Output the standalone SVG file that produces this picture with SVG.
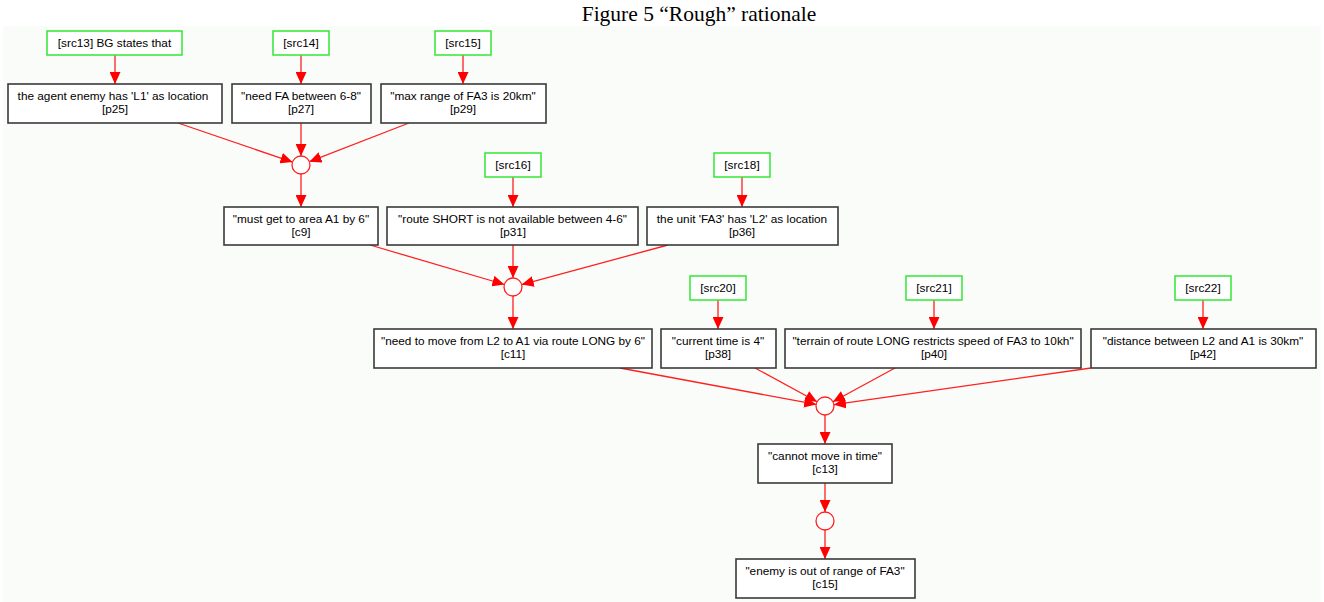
<svg xmlns="http://www.w3.org/2000/svg" width="1324" height="602" viewBox="0 0 1324 602">
<style>
.t{font-family:"Liberation Serif",serif;font-size:21.5px;fill:#000}
.src rect{fill:#fff;stroke:#33e633;stroke-width:1.5}
.nd rect{fill:#fff;stroke:#3a3a3a;stroke-width:1.6}
text.l{font-family:"Liberation Sans",Arial,sans-serif;font-size:11.8px;fill:#000;text-anchor:middle}
.j circle{fill:#fff;stroke:#ff2020;stroke-width:1.3}
#edges line{stroke:#ff2020;stroke-width:1.3;marker-end:url(#ah)}
</style>
<defs>
<marker id="ah" markerUnits="userSpaceOnUse" markerWidth="12" markerHeight="11" refX="12" refY="5.5" orient="auto">
<path d="M0,0 L12,5.5 L0,11 z" fill="#ff0000"/>
</marker>
</defs>
<rect x="0" y="0" width="1324" height="602" fill="#ffffff"/>
<rect x="3" y="26" width="1318" height="576" fill="#fafcfa"/>
<text class="t" x="699" y="21" text-anchor="middle">Figure 5 “Rough” rationale</text>

<g id="edges">
<line x1="115" y1="55" x2="115" y2="84"/>
<line x1="301" y1="55" x2="301" y2="84"/>
<line x1="463" y1="55" x2="463" y2="84"/>
<line x1="178" y1="123" x2="292.5" y2="162.1"/>
<line x1="301" y1="123" x2="301" y2="156"/>
<line x1="409" y1="123" x2="309.4" y2="161.7"/>
<line x1="301" y1="174" x2="301" y2="207"/>
<line x1="513" y1="177" x2="513" y2="207"/>
<line x1="742" y1="177" x2="742" y2="207"/>
<line x1="370" y1="245" x2="504.4" y2="284.5"/>
<line x1="513" y1="245" x2="513" y2="278"/>
<line x1="668" y1="245" x2="521.7" y2="284.6"/>
<line x1="513" y1="296" x2="513" y2="329"/>
<line x1="718" y1="300" x2="718" y2="329"/>
<line x1="934" y1="300" x2="934" y2="329"/>
<line x1="1203" y1="300" x2="1203" y2="329"/>
<line x1="620" y1="368" x2="816.2" y2="404.4"/>
<line x1="755" y1="368" x2="817.1" y2="401.7"/>
<line x1="895" y1="368" x2="832.9" y2="401.7"/>
<line x1="1091" y1="368" x2="833.9" y2="404.7"/>
<line x1="825" y1="415" x2="825" y2="444"/>
<line x1="825" y1="483" x2="825" y2="512"/>
<line x1="825" y1="530" x2="825" y2="559"/>
</g>

<g id="src13" class="src"><rect x="47" y="31" width="135" height="24"/><text class="l" x="114.5" y="47">[src13] BG states that</text></g>
<g id="src14" class="src"><rect x="273" y="31" width="56" height="24"/><text class="l" x="301" y="47">[src14]</text></g>
<g id="src15" class="src"><rect x="435" y="31" width="56" height="24"/><text class="l" x="463" y="47">[src15]</text></g>
<g id="src16" class="src"><rect x="485" y="153" width="56" height="24"/><text class="l" x="513" y="169">[src16]</text></g>
<g id="src18" class="src"><rect x="714" y="153" width="56" height="24"/><text class="l" x="742" y="169">[src18]</text></g>
<g id="src20" class="src"><rect x="690" y="276" width="56" height="24"/><text class="l" x="718" y="292">[src20]</text></g>
<g id="src21" class="src"><rect x="906" y="276" width="56" height="24"/><text class="l" x="934" y="292">[src21]</text></g>
<g id="src22" class="src"><rect x="1175" y="276" width="56" height="24"/><text class="l" x="1203" y="292">[src22]</text></g>

<g id="p25" class="nd"><rect x="8" y="84" width="214" height="39"/><text class="l" x="113" y="99.5">the agent enemy has 'L1' as location</text><text class="l" x="115" y="113">[p25]</text></g>
<g id="p27" class="nd"><rect x="232" y="84" width="139" height="39"/><text class="l" x="301" y="99.5">"need FA between 6-8"</text><text class="l" x="301" y="113">[p27]</text></g>
<g id="p29" class="nd"><rect x="381" y="84" width="165" height="39"/><text class="l" x="463" y="99.5">"max range of FA3 is 20km"</text><text class="l" x="463" y="113">[p29]</text></g>
<g id="c9" class="nd"><rect x="224" y="207" width="154" height="38"/><text class="l" x="301" y="222.5">"must get to area A1 by 6"</text><text class="l" x="301" y="236">[c9]</text></g>
<g id="p31" class="nd"><rect x="387" y="207" width="251" height="38"/><text class="l" x="512.5" y="222.5">"route SHORT is not available between 4-6"</text><text class="l" x="513" y="236">[p31]</text></g>
<g id="p36" class="nd"><rect x="647" y="207" width="191" height="38"/><text class="l" x="742" y="222.5">the unit 'FA3' has 'L2' as location</text><text class="l" x="742" y="236">[p36]</text></g>
<g id="c11" class="nd"><rect x="374" y="329" width="278" height="39"/><text class="l" x="513" y="344.5">"need to move from L2 to A1 via route LONG by 6"</text><text class="l" x="513" y="358">[c11]</text></g>
<g id="p38" class="nd"><rect x="661" y="329" width="115" height="39"/><text class="l" x="718" y="344.5">"current time is 4"</text><text class="l" x="718" y="358">[p38]</text></g>
<g id="p40" class="nd"><rect x="785" y="329" width="296" height="39"/><text class="l" x="933" y="344.5">"terrain of route LONG restricts speed of FA3 to 10kh"</text><text class="l" x="934" y="358">[p40]</text></g>
<g id="p42" class="nd"><rect x="1091" y="329" width="225" height="39"/><text class="l" x="1203" y="344.5">"distance between L2 and A1 is 30km"</text><text class="l" x="1203" y="358">[p42]</text></g>
<g id="c13" class="nd"><rect x="758" y="444" width="134" height="39"/><text class="l" x="825" y="459.5">"cannot move in time"</text><text class="l" x="825" y="473">[c13]</text></g>
<g id="c15" class="nd"><rect x="736" y="559" width="179" height="39"/><text class="l" x="825" y="574.5">"enemy is out of range of FA3"</text><text class="l" x="825" y="588">[c15]</text></g>

<g id="j1" class="j"><circle cx="301" cy="165" r="9"/></g>
<g id="j2" class="j"><circle cx="513" cy="287" r="9"/></g>
<g id="j3" class="j"><circle cx="825" cy="406" r="9"/></g>
<g id="j4" class="j"><circle cx="825" cy="521" r="9"/></g>
</svg>
